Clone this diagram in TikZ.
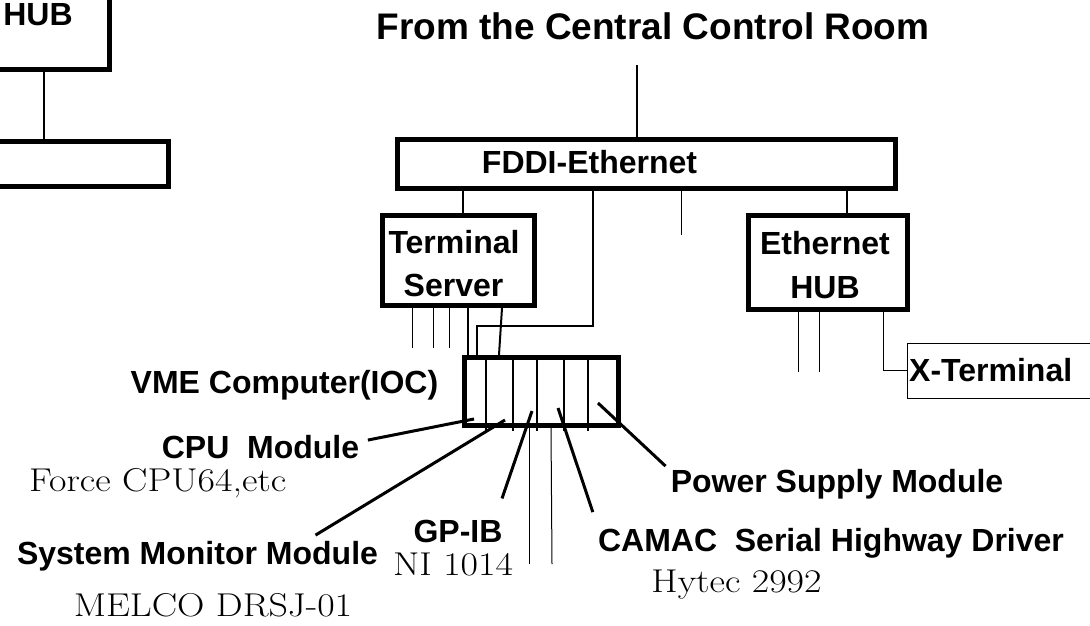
\documentclass[tikz,border=0pt]{standalone}
\usepackage{fontspec}
\usepackage{graphicx}
\setsansfont{Liberation Sans}
\usetikzlibrary{calc}
\newcommand{\widetxt}[1]{\scalebox{1.15}[1]{#1}}
\begin{document}
\begin{tikzpicture}[x=1pt,y=-1pt,
  box/.style={draw, line width=5pt, inner sep=0pt},
  lbl/.style={font=\sffamily\bfseries\fontsize{32}{38}\selectfont, inner sep=0pt, anchor=base},
  ser/.style={font=\rmfamily\fontsize{33}{40}\selectfont, inner sep=0pt, anchor=base},
  conn/.style={line width=2pt},
  thinl/.style={line width=1pt},
  modl/.style={line width=3pt},
  divl/.style={line width=2.5pt}]
\useasboundingbox (0,0) rectangle (1090,625);
\clip (0,0) rectangle (1090,625);

% left partial boxes
\node[box, minimum width=160, minimum height=120] (lhub) at (29.5,9.5) {};
\node[lbl] (lhubt) at (38,25) {HUB};
\node[box, minimum width=220, minimum height=45] (lbox) at (58.5,164) {};
\draw[conn] (lhub.south -| 44,0) -- (lbox.north -| 44,0);

% title and FDDI
\node[lbl, font=\sffamily\bfseries\fontsize{37}{44}\selectfont] (title) at (653,39) {From the Central Control Room};
\coordinate (ccr) at (637,65);
\node[box, minimum width=498, minimum height=49] (fddi) at (646.5,164) {};
\node[lbl] (fddit) at (589.5,173) {FDDI-Ethernet};
\draw[conn] (ccr) -- (fddi.north -| ccr);

% terminal server
\node[box, minimum width=152, minimum height=90] (ts) at (458.5,260.5) {};
\node[lbl] (ts1) at (454,253.5) {Terminal};
\node[lbl] (ts2) at (453.5,296) {Server};

% ethernet hub
\node[box, minimum width=159, minimum height=94] (hub) at (828,262.5) {};
\node[lbl] (hub1) at (825,254.5) {Ethernet};
\node[lbl] (hub2) at (825,298.5) {HUB};

% VME
\node[box, minimum width=154, minimum height=68] (vme) at (541.5,391.5) {};

% X-terminal
\node[draw, line width=1pt, minimum width=200, minimum height=55, inner sep=0pt, anchor=west] (xt) at (907,370.5) {};
\node[lbl, anchor=base west] (xtt) at (909,381.5) {X-Terminal};

% connectors from FDDI
\draw[conn] (fddi.south -| 463,0) -- (ts.north -| 463,0);
\draw[conn] (fddi.south -| 593,0) -- (593,326) -- (477,326) -- (vme.north -| 477,0);
\coordinate (s1) at (681,235);
\draw[thinl] (fddi.south -| s1) -- (s1);
\draw[conn, line width=2.5pt] (fddi.south -| 847,0) -- (hub.north -| 847,0);

% terminal server outputs
\foreach \x in {412,433,449} {\draw[thinl] (ts.south -| \x,0) -- (\x,348);}
\draw[conn] (ts.south -| 468,0) -- (vme.north -| 468,0);
\draw[conn] (ts.south -| 502,0) -- (vme.north -| 499,0);

% hub outputs
\foreach \x in {798,819} {\draw[thinl] (hub.south -| \x,0) -- (\x,372);}
\draw[thinl] (hub.south -| 883,0) -- (883,370.5) -- (xt.west);

% VME slot dividers
\foreach \x in {486,513,537,564,588} {\draw[divl] (vme.north -| \x,0) -- (\x,431);}
\draw[thinl] (vme.south -| 529,0) -- (529,564);
\draw[thinl] (vme.south -| 551,0) -- (552,564);

% labels
\node[lbl] (vmel) at (284.5,393.5) {VME Computer(IOC)};
\node[lbl] (cpu) at (260.5,458.5) {CPU~~Module};
\node[ser, anchor=base west] (cpum) at (29,491.5) {\widetxt{Force CPU64,etc}};
\node[lbl] (sysm) at (197.5,564.5) {System Monitor Module};
\node[ser] (melco) at (213,616.5) {\widetxt{MELCO DRSJ-01}};
\node[lbl] (gpib) at (458,542.5) {GP-IB};
\node[ser] (ni) at (453,575) {\widetxt{NI 1014}};
\node[lbl] (psm) at (837,492.5) {Power Supply Module};
\node[lbl] (camac) at (831,551.5) {CAMAC~~Serial Highway Driver};
\node[ser] (hytec) at (736.5,592.5) {\widetxt{Hytec 2992}};

% module pointer lines
\coordinate (m1) at (474,419);
\coordinate (m2) at (505,420);
\coordinate (m3) at (532,411);
\coordinate (m4) at (558,408);
\coordinate (m5) at (598,403);
\draw[modl] (m1) -- ($(cpu.east)+(8.5,-7)$);
\draw[modl] (m2) -- ($(sysm.north)+(118,-6)$);
\draw[modl] (m3) -- ($(gpib.north)+(44,-21.5)$);
\draw[modl] (m4) -- ($(camac.north west)+(-5,-16)$);
\draw[modl] (m5) -- ($(psm.north west)+(-5,-3)$);
\end{tikzpicture}
\end{document}
